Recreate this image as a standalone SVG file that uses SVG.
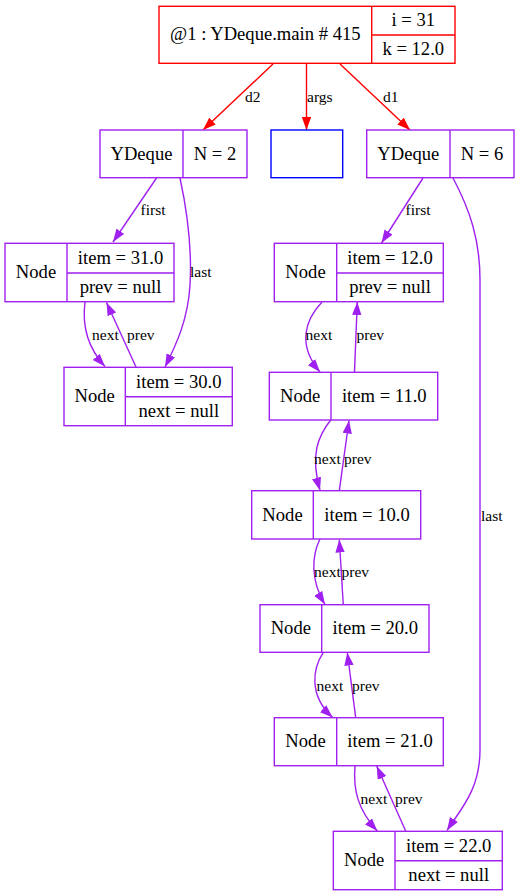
<svg xmlns="http://www.w3.org/2000/svg" width="520" height="896" viewBox="0 0 520 896">
<style>
text{font-family:"Liberation Serif","Times New Roman",serif;fill:#000}
.n{font-size:18.6px;text-anchor:middle}
.e{font-size:15.5px}
.box{fill:#fff;stroke-width:1.4}
.r{stroke:#ff0000}
.p{stroke:#a020f0}
.b{stroke:#0000ff}
.ln{fill:none;stroke-width:1.4}
</style>
<defs>
<marker id="ar" markerUnits="userSpaceOnUse" markerWidth="14" markerHeight="10" refX="13" refY="4.7" orient="auto"><path d="M0,0L13,4.7L0,9.4z" fill="#ff0000"/></marker>
<marker id="ap" markerUnits="userSpaceOnUse" markerWidth="14" markerHeight="10" refX="13" refY="4.7" orient="auto"><path d="M0,0L13,4.7L0,9.4z" fill="#a020f0"/></marker>
</defs>
<g id="connectors">
<path class="ln r" d="M273,64L203,130" marker-end="url(#ar)"/>
<path class="ln r" d="M306.5,64L306.5,130" marker-end="url(#ar)"/>
<path class="ln r" d="M340,64L410,130" marker-end="url(#ar)"/>
<text class="e" x="245" y="102">d2</text>
<text class="e" x="307" y="102">args</text>
<text class="e" x="383" y="102">d1</text>
<path class="ln p" d="M156.5,178L113,242" marker-end="url(#ap)"/>
<text class="e" x="140.5" y="215">first</text>
<path class="ln p" d="M180,178C188,215 192,250 190,285C188,320 176,345 165,367" marker-end="url(#ap)"/>
<text class="e" x="190" y="277">last</text>
<path class="ln p" d="M85,302C82,325 88,348 105,366.5" marker-end="url(#ap)"/>
<text class="e" x="92" y="340">next</text>
<path class="ln p" d="M136,367L106.5,302.5" marker-end="url(#ap)"/>
<text class="e" x="127" y="340">prev</text>
<path class="ln p" d="M423,178L381.5,243" marker-end="url(#ap)"/>
<text class="e" x="405.5" y="215">first</text>
<path class="ln p" d="M453,178C470,210 480,240 480,280L480,750C480,790 460,810 447,830.5" marker-end="url(#ap)"/>
<text class="e" x="481" y="521">last</text>
<path class="ln p" d="M322,302C305,320 297,345 320,372" marker-end="url(#ap)"/>
<text class="e" x="305.5" y="340">next</text>
<path class="ln p" d="M354.5,372L357.3,302" marker-end="url(#ap)"/>
<text class="e" x="356.5" y="340">prev</text>
<path class="ln p" d="M330.7,420C318,436 310,455 320,490.5" marker-end="url(#ap)"/>
<text class="e" x="314" y="464">next</text>
<path class="ln p" d="M339.3,490.7L349,420.5" marker-end="url(#ap)"/>
<text class="e" x="344" y="464">prev</text>
<path class="ln p" d="M320,539C312,555 310,580 325,604.5" marker-end="url(#ap)"/>
<text class="e" x="314" y="577">next</text>
<path class="ln p" d="M343.3,604.7L339.3,539.5" marker-end="url(#ap)"/>
<text class="e" x="341.5" y="577">prev</text>
<path class="ln p" d="M323.3,652.3C313,668 308,695 332.7,717.5" marker-end="url(#ap)"/>
<text class="e" x="316.5" y="691">next</text>
<path class="ln p" d="M355.7,717.7L347.3,652.5" marker-end="url(#ap)"/>
<text class="e" x="352" y="691">prev</text>
<path class="ln p" d="M355,766C353,790 358,810 377.3,831" marker-end="url(#ap)"/>
<text class="e" x="360.5" y="804">next</text>
<path class="ln p" d="M405.7,831L376.7,766" marker-end="url(#ap)"/>
<text class="e" x="395" y="804">prev</text>
</g>
<g id="main">
<rect class="box r" x="159" y="6.3" width="296" height="57"/>
<path class="ln r" d="M371.7,6.3V63.3M371.7,35H455"/>
<text class="n" x="265.3" y="40.4">@1 : YDeque.main # 415</text>
<text class="n" x="413.3" y="26.2">i = 31</text>
<text class="n" x="413.3" y="55.2">k = 12.0</text>
</g>
<g id="deque2">
<rect class="box p" x="100" y="130" width="147" height="47.7"/>
<path class="ln p" d="M183,130V177.7"/>
<text class="n" x="141.5" y="159.6">YDeque</text>
<text class="n" x="215" y="159.6">N = 2</text>
</g>
<g id="args">
<rect class="box b" x="271" y="130" width="71.7" height="47.7"/>
</g>
<g id="deque1">
<rect class="box p" x="366.7" y="130" width="147.3" height="47.7"/>
<path class="ln p" d="M450,130V177.7"/>
<text class="n" x="408.3" y="159.6">YDeque</text>
<text class="n" x="482" y="159.6">N = 6</text>
</g>
<g id="node31">
<rect class="box p" x="5" y="243.3" width="169" height="58.4"/>
<path class="ln p" d="M67,243.3V301.7M67,273H174"/>
<text class="n" x="36" y="278.1">Node</text>
<text class="n" x="120.5" y="263.7">item = 31.0</text>
<text class="n" x="120.5" y="292.9">prev = null</text>
</g>
<g id="node30">
<rect class="box p" x="64" y="367.3" width="168.3" height="58.4"/>
<path class="ln p" d="M125.3,367.3V425.7M125.3,396.7H232.3"/>
<text class="n" x="94.7" y="402.1">Node</text>
<text class="n" x="178.8" y="387.6">item = 30.0</text>
<text class="n" x="178.8" y="416.8">next = null</text>
</g>
<g id="node12">
<rect class="box p" x="274.3" y="243.3" width="169" height="58.4"/>
<path class="ln p" d="M336.7,243.3V301.7M336.7,273H443.3"/>
<text class="n" x="305.5" y="278.1">Node</text>
<text class="n" x="390" y="263.7">item = 12.0</text>
<text class="n" x="390" y="292.9">prev = null</text>
</g>
<g id="node11">
<rect class="box p" x="269.3" y="372.3" width="168.4" height="47.7"/>
<path class="ln p" d="M331,372.3V420"/>
<text class="n" x="300.2" y="401.8">Node</text>
<text class="n" x="384.3" y="401.8">item = 11.0</text>
</g>
<g id="node10">
<rect class="box p" x="251.7" y="490.7" width="169" height="48.3"/>
<path class="ln p" d="M313.3,490.7V539"/>
<text class="n" x="282.5" y="520.5">Node</text>
<text class="n" x="367" y="520.5">item = 10.0</text>
</g>
<g id="node20">
<rect class="box p" x="260" y="604.7" width="169" height="47.6"/>
<path class="ln p" d="M321.7,604.7V652.3"/>
<text class="n" x="290.8" y="634.1">Node</text>
<text class="n" x="375.3" y="634.1">item = 20.0</text>
</g>
<g id="node21">
<rect class="box p" x="274.3" y="717.7" width="169" height="48"/>
<path class="ln p" d="M336.7,717.7V765.7"/>
<text class="n" x="305.5" y="747.3">Node</text>
<text class="n" x="390" y="747.3">item = 21.0</text>
</g>
<g id="node22">
<rect class="box p" x="333.3" y="831.3" width="169" height="58.4"/>
<path class="ln p" d="M395,831.3V889.7M395,860.7H502.3"/>
<text class="n" x="364.2" y="866.1">Node</text>
<text class="n" x="448.7" y="851.6">item = 22.0</text>
<text class="n" x="448.7" y="880.8">next = null</text>
</g>
</svg>
